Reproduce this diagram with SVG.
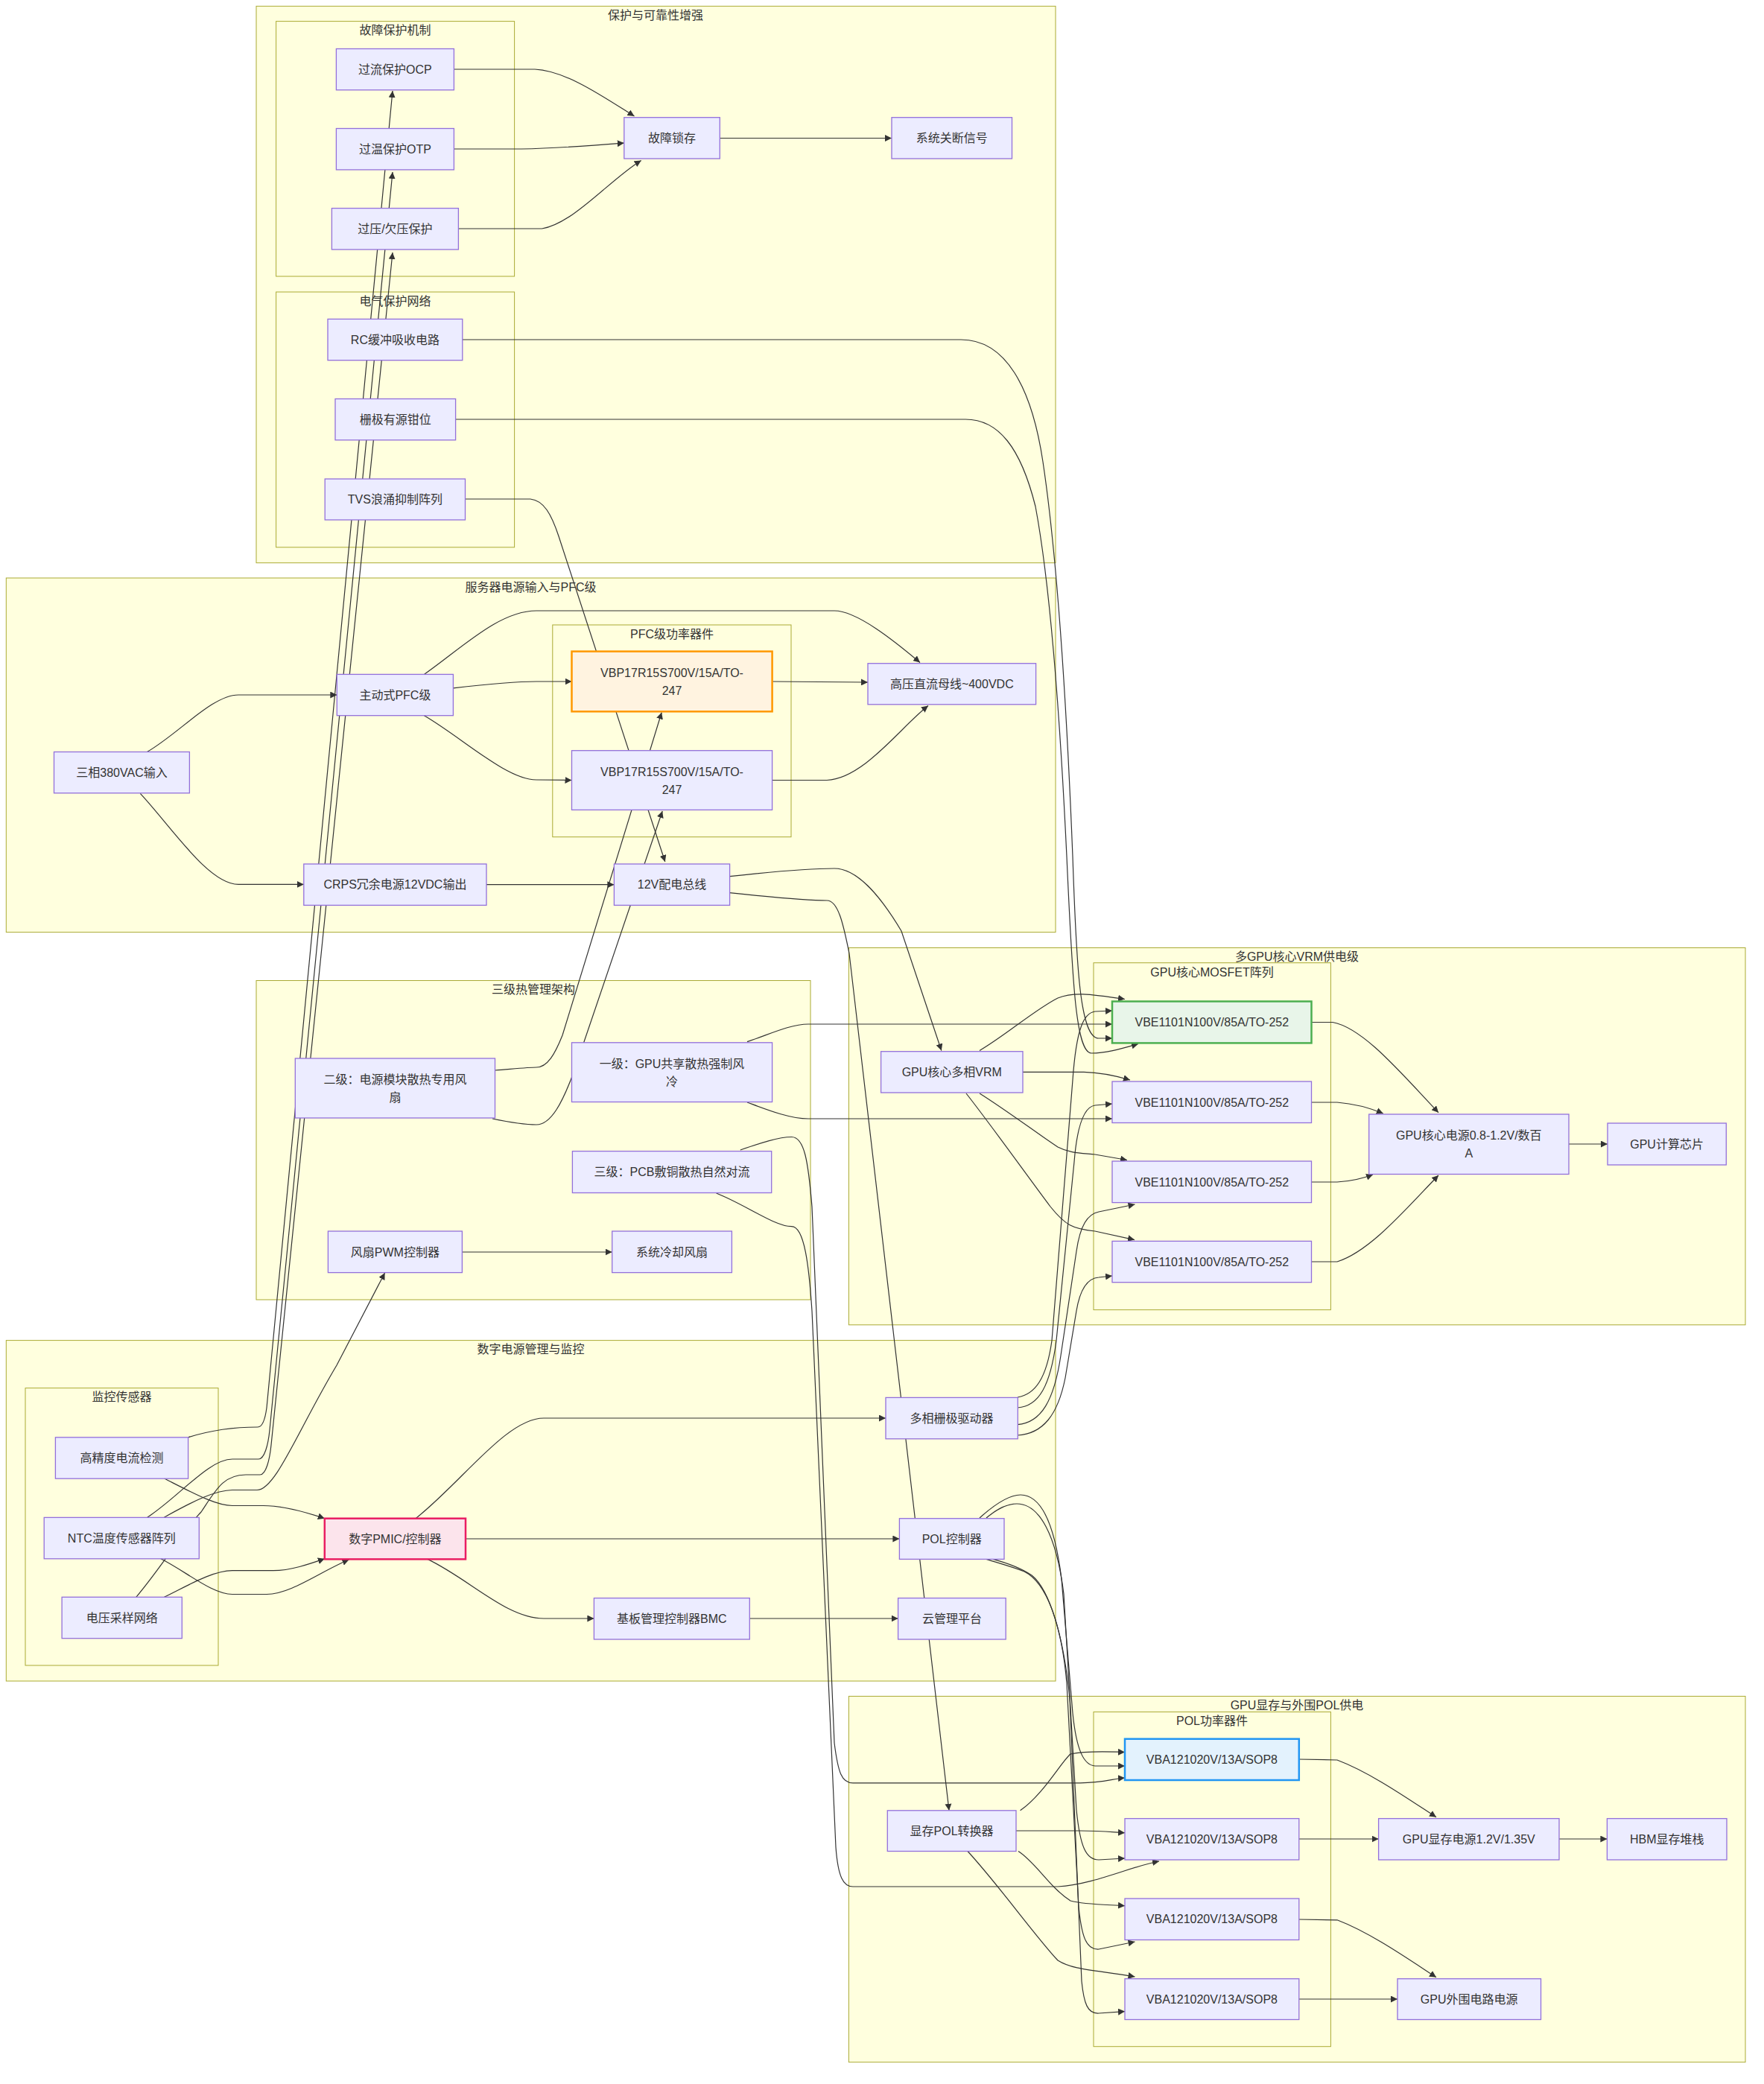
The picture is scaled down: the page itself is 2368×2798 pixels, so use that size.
<svg xmlns="http://www.w3.org/2000/svg" width="2368" height="2798" viewBox="0 0 2368 2798">
<defs>
<marker id="arr" viewBox="0 0 10 10" refX="10" refY="5" markerWidth="9" markerHeight="9" markerUnits="userSpaceOnUse" orient="auto"><path d="M0,0 L10,5 L0,10 z" fill="#333"/></marker>
<style>
.sg{fill:#ffffde;stroke:#aaaa33;stroke-width:1}
.st{font-family:"Liberation Sans","Noto Sans CJK SC",sans-serif;font-size:16px;fill:#333;text-anchor:middle;dominant-baseline:central}
.n rect{fill:#ECECFF;stroke:#9370DB;stroke-width:1.3}
.n text{font-family:"Liberation Sans","Noto Sans CJK SC",sans-serif;font-size:16px;fill:#333;text-anchor:middle;dominant-baseline:central}
.orange rect{fill:#fff3e0;stroke:#ff9800;stroke-width:2.5}
.green rect{fill:#e8f5e9;stroke:#4caf50;stroke-width:2.5}
.blue rect{fill:#e3f2fd;stroke:#2196f3;stroke-width:2.5}
.pink rect{fill:#fce4ec;stroke:#e91e63;stroke-width:2.5}
.e path{fill:none;stroke:#333;stroke-width:1.2;marker-end:url(#arr)}
</style>
</defs>
<rect width="2368" height="2798" fill="#ffffff"/>
<g id="clusters">
<rect class="sg" x="344" y="8.3" width="1073" height="747.4"/>
<text class="st" x="880" y="20">保护与可靠性增强</text>
<rect class="sg" x="370.6" y="28.6" width="320" height="342.4"/>
<text class="st" x="530.6" y="40">故障保护机制</text>
<rect class="sg" x="370.6" y="392" width="320" height="342.8"/>
<text class="st" x="530.6" y="404">电气保护网络</text>
<rect class="sg" x="8.3" y="776" width="1408.7" height="475.6"/>
<text class="st" x="712.6" y="788">服务器电源输入与PFC级</text>
<rect class="sg" x="741.8" y="839" width="320.2" height="284.7"/>
<text class="st" x="902" y="851">PFC级功率器件</text>
<rect class="sg" x="344" y="1316.5" width="744" height="428.5"/>
<text class="st" x="716" y="1328">三级热管理架构</text>
<rect class="sg" x="1139.4" y="1272.5" width="1203.6" height="506.3"/>
<text class="st" x="1741" y="1284">多GPU核心VRM供电级</text>
<rect class="sg" x="1468" y="1292.7" width="318.4" height="465.9"/>
<text class="st" x="1627" y="1305">GPU核心MOSFET阵列</text>
<rect class="sg" x="8.3" y="1799.6" width="1408.7" height="457.4"/>
<text class="st" x="712.6" y="1811">数字电源管理与监控</text>
<rect class="sg" x="34" y="1863.6" width="259" height="372.4"/>
<text class="st" x="163.5" y="1875">监控传感器</text>
<rect class="sg" x="1139.4" y="2277.4" width="1203.6" height="491.3"/>
<text class="st" x="1741" y="2289">GPU显存与外围POL供电</text>
<rect class="sg" x="1468" y="2298.4" width="318.4" height="449.3"/>
<text class="st" x="1627" y="2310">POL功率器件</text>
</g>
<g id="edges" class="e">
<path d="M609.4,93 L718,93 C760,95 810,130 851.5,156"/>
<path d="M609.4,200 L700,200 C750,199 800,195 837.8,192"/>
<path d="M615.3,307 L727.5,307 C770,300 820,240 860.7,215.4"/>
<path d="M966.3,185.5 L1197,185.5"/>
<path d="M197.5,1009.5 C240,985 285,933 320,933 L452.3,933"/>
<path d="M188.3,1065.4 C230,1110 280,1187.4 320,1187.4 L407.8,1187.4"/>
<path d="M608.4,923.8 C650,919 700,915 720,915 L767.5,915"/>
<path d="M569.4,960.7 C620,990 680,1047 720,1047 L767.5,1047.5"/>
<path d="M569.4,905.4 C620,870 670,820 720,820 L1120,820 C1150,820 1200,860 1235,889.5"/>
<path d="M1036.6,915 L1165,916"/>
<path d="M1036.6,1047.5 L1110,1047.5 C1160,1045 1210,975 1246,947.6"/>
<path d="M653,1187.7 L824.4,1187.7"/>
<path d="M979.6,1176.7 C1040,1170 1090,1166 1120,1166 C1150,1166 1180,1200 1210,1250 L1263.8,1410.5"/>
<path d="M979.6,1198.7 C1040,1205 1080,1209 1110,1209 C1125,1209 1132,1240 1140,1280 L1274,2430.8"/>
<path d="M624.5,670 L712,670 C730,672 740,690 750,720 L892.8,1157"/>
<path d="M664.5,1437 C690,1435 710,1433 720,1433 C735,1433 745,1415 755,1390 L888.2,956.5"/>
<path d="M661,1502 C690,1508 705,1510 720,1510 C740,1510 755,1480 770,1440 L889.2,1089"/>
<path d="M1003,1398.6 C1030,1390 1060,1375 1085,1375 L1493,1375"/>
<path d="M1003,1480 C1030,1490 1060,1502 1085,1502 L1493,1502"/>
<path d="M993.8,1544 C1020,1535 1045,1526.5 1062.6,1526.5 C1080,1526.5 1085,1560 1090,1620 L1120,2340 C1125,2380 1130,2393.8 1145,2393.8 L1450,2393.8 C1480,2393.8 1495,2388 1510,2387"/>
<path d="M961.6,1602 C1000,1617 1040,1646.7 1062.6,1646.7 C1080,1646.7 1086,1700 1090,1760 L1122,2480 C1125,2520 1132,2533 1145,2533 L1420,2533 C1470,2530 1520,2505 1556,2499"/>
<path d="M620.4,1681 L821.7,1681"/>
<path d="M620.8,456 L1290,456 C1350,456 1385,520 1400,620 C1415,720 1430,900 1440,1150 C1445,1300 1450,1394 1475,1394 L1493,1394"/>
<path d="M611.6,563 L1296,563 C1340,563 1370,600 1390,680 C1405,760 1420,900 1432,1150 C1440,1330 1445,1412 1465,1414 C1485,1414 1505,1408 1528,1401.5"/>
<path d="M1315,1410.5 C1350,1390 1390,1355 1420,1340 C1440,1332 1460,1334 1510,1341.5"/>
<path d="M1373,1439.4 L1455,1439.4 C1480,1440 1500,1445 1517,1450"/>
<path d="M1315,1468 C1350,1490 1390,1520 1420,1540 C1435,1548 1450,1548 1470,1550 L1513,1557.5"/>
<path d="M1297,1468 C1330,1510 1380,1580 1410,1620 C1430,1645 1440,1650 1470,1653 L1523,1664.6"/>
<path d="M1366,1876 C1390,1872 1405,1850 1412,1800 L1440,1450 C1445,1380 1455,1360 1470,1358 L1493,1357"/>
<path d="M1366,1890 C1395,1888 1410,1860 1418,1800 L1442,1560 C1446,1510 1455,1486 1470,1484 L1493,1482"/>
<path d="M1366,1912.6 C1398,1910 1415,1880 1424,1820 L1445,1680 C1450,1645 1460,1630 1475,1627 L1523.5,1617"/>
<path d="M1366,1927 C1400,1925 1420,1900 1430,1850 L1445,1760 C1450,1730 1460,1716 1475,1715 L1493,1713"/>
<path d="M1760.5,1372.5 L1789,1372.5 C1830,1380 1880,1440 1931,1493.8"/>
<path d="M1760.5,1480 L1795,1480 C1820,1482 1840,1488 1856.8,1495"/>
<path d="M1760.5,1587 L1795,1587 C1815,1586 1830,1582 1843,1577"/>
<path d="M1760.5,1694 L1795,1694 C1840,1680 1890,1620 1931,1578"/>
<path d="M2106,1536 L2158,1536"/>
<path d="M252.6,1929.8 C290,1918 320,1916 346,1916 C352,1916 356,1905 358,1890 L527,122"/>
<path d="M197.5,2037.4 C240,2010 280,1959 312,1959 L347,1959 C355,1959 360,1940 362,1920 L527,231"/>
<path d="M182.8,2144.3 C220,2100 250,2050 270,2030 C290,2000 300,1980 330,1980 L349,1980 C357,1980 362,1960 364,1940 L527,339"/>
<path d="M220,2037.4 C260,2015 290,2000.5 312,2000.5 L345,2000.5 C370,2000.5 400,1920 452,1833 L516.6,1709"/>
<path d="M220.4,1985 C260,2005 290,2021.5 312,2021.5 L353.6,2021.5 C380,2021.5 410,2030 435.8,2038.7"/>
<path d="M215.8,2092.8 C250,2110 285,2140.5 312,2140.5 L358,2140.5 C390,2140.5 430,2110 468.4,2094"/>
<path d="M220.4,2144.3 C250,2130 285,2108.7 312,2108.7 L367,2108.7 C390,2108.7 415,2100 435.8,2092.8"/>
<path d="M558,2038.7 C620,1990 680,1904 730,1904 L1189,1904"/>
<path d="M625,2066 L1207.4,2066"/>
<path d="M574,2093.4 C630,2120 680,2173 730,2173 L797.4,2173"/>
<path d="M1006.3,2173 L1205.6,2173"/>
<path d="M1315,2038 C1335,2020 1355,2007 1370,2007 C1395,2007 1415,2040 1425,2120 L1440,2300 C1445,2350 1455,2370 1470,2371 L1510,2371"/>
<path d="M1324,2038 C1340,2025 1352,2019 1365,2019 C1395,2019 1418,2060 1428,2140 L1445,2430 C1450,2480 1458,2497 1475,2497 L1510,2495"/>
<path d="M1324,2093.4 C1345,2100 1360,2104 1375,2110 C1405,2125 1425,2180 1432,2260 L1448,2560 C1452,2600 1458,2618 1475,2617 L1523.5,2607"/>
<path d="M1333,2093.4 C1350,2098 1370,2105 1385,2115 C1410,2135 1428,2200 1436,2280 L1452,2660 C1455,2690 1460,2704 1475,2703 L1510,2700.6"/>
<path d="M1369.6,2430.8 C1400,2410 1425,2365 1437,2355 C1460,2350 1490,2352 1510,2352.5"/>
<path d="M1364,2458 L1450,2458 C1480,2458 1495,2460 1510,2460.7"/>
<path d="M1367,2485.5 C1390,2500 1410,2535 1437,2552 C1455,2557 1480,2557 1510,2558.7"/>
<path d="M1299,2485.5 C1340,2530 1390,2600 1420,2632 C1440,2645 1470,2645 1523.5,2654"/>
<path d="M1743.8,2362 L1795,2363 C1840,2380 1890,2415 1928,2439.7"/>
<path d="M1743.8,2469 L1850.6,2469"/>
<path d="M2093,2469 L2157.4,2469"/>
<path d="M1743.8,2577 L1795,2577.8 C1840,2595 1890,2630 1928,2654.8"/>
<path d="M1743.8,2684 L1876,2684"/>
</g>
<g id="ocp" class="n"><rect x="451.4" y="65.5" width="158" height="55.3"/><text x="530.4" y="93">过流保护OCP</text></g>
<g id="otp" class="n"><rect x="451.4" y="172.5" width="158" height="55.4"/><text x="530.4" y="200">过温保护OTP</text></g>
<g id="ovp" class="n"><rect x="445.4" y="279.6" width="170" height="55.4"/><text x="530.4" y="307">过压/欠压保护</text></g>
<g id="rc" class="n"><rect x="440" y="428.4" width="180.8" height="55.3"/><text x="530.4" y="456">RC缓冲吸收电路</text></g>
<g id="clamp" class="n"><rect x="450" y="535.5" width="161.6" height="55.3"/><text x="530.8" y="563">栅极有源钳位</text></g>
<g id="tvs" class="n"><rect x="436.2" y="643" width="188.3" height="55"/><text x="530.4" y="670.5">TVS浪涌抑制阵列</text></g>
<g id="latch" class="n"><rect x="837.8" y="157.7" width="128.5" height="55.3"/><text x="902" y="185.5">故障锁存</text></g>
<g id="shutdown" class="n"><rect x="1197" y="157.7" width="161.5" height="55.3"/><text x="1277.8" y="185.5">系统关断信号</text></g>
<g id="pfc" class="n"><rect x="452.3" y="905.4" width="156.1" height="55.3"/><text x="530.4" y="933">主动式PFC级</text></g>
<g id="ac" class="n"><rect x="72.5" y="1009.5" width="181.9" height="55.3"/><text x="163.5" y="1037">三相380VAC输入</text></g>
<g id="crps" class="n"><rect x="407.8" y="1160" width="245.2" height="55.4"/><text x="530.4" y="1187.7">CRPS冗余电源12VDC输出</text></g>
<g id="qpfc1" class="n orange"><rect x="767.5" y="874.6" width="269.1" height="80.7"/><text x="902" y="915"><tspan x="902" dy="-12">VBP17R15S700V/15A/TO-</tspan><tspan x="902" dy="24">247</tspan></text></g>
<g id="qpfc2" class="n"><rect x="767.5" y="1007.7" width="269.1" height="79.7"/><text x="902" y="1047.5"><tspan x="902" dy="-12">VBP17R15S700V/15A/TO-</tspan><tspan x="902" dy="24">247</tspan></text></g>
<g id="hvbus" class="n"><rect x="1165" y="890.7" width="225.6" height="55.1"/><text x="1277.8" y="918.2">高压直流母线~400VDC</text></g>
<g id="bus12" class="n"><rect x="824.4" y="1160" width="155.2" height="55.4"/><text x="902" y="1187.7">12V配电总线</text></g>
<g id="cool1" class="n"><rect x="767.5" y="1399.8" width="269.1" height="79.7"/><text x="902" y="1439.6"><tspan x="902" dy="-12">一级：GPU共享散热强制风</tspan><tspan x="902" dy="24">冷</tspan></text></g>
<g id="cool2" class="n"><rect x="396.3" y="1421" width="268.2" height="80"/><text x="530.4" y="1461"><tspan x="530.4" dy="-12">二级：电源模块散热专用风</tspan><tspan x="530.4" dy="24">扇</tspan></text></g>
<g id="cool3" class="n"><rect x="768.4" y="1545.6" width="267.3" height="55.9"/><text x="902" y="1573.6">三级：PCB敷铜散热自然对流</text></g>
<g id="fanpwm" class="n"><rect x="440.4" y="1653" width="180" height="55.6"/><text x="530.4" y="1681">风扇PWM控制器</text></g>
<g id="fan" class="n"><rect x="821.7" y="1653" width="160.7" height="55.6"/><text x="902" y="1681">系统冷却风扇</text></g>
<g id="vrm" class="n"><rect x="1182.6" y="1411.7" width="190.4" height="55.3"/><text x="1277.8" y="1439.4">GPU核心多相VRM</text></g>
<g id="vbe1" class="n green"><rect x="1493" y="1344.5" width="267.5" height="55.9"/><text x="1626.8" y="1372.5">VBE1101N100V/85A/TO-252</text></g>
<g id="vbe2" class="n"><rect x="1493" y="1452" width="267.5" height="55.5"/><text x="1626.8" y="1480">VBE1101N100V/85A/TO-252</text></g>
<g id="vbe3" class="n"><rect x="1493" y="1559" width="267.5" height="55.6"/><text x="1626.8" y="1587">VBE1101N100V/85A/TO-252</text></g>
<g id="vbe4" class="n"><rect x="1493" y="1666.4" width="267.5" height="55.3"/><text x="1626.8" y="1694">VBE1101N100V/85A/TO-252</text></g>
<g id="corepwr" class="n"><rect x="1837.7" y="1496" width="268.3" height="80.5"/><text x="1971.8" y="1536"><tspan x="1971.8" dy="-12">GPU核心电源0.8-1.2V/数百</tspan><tspan x="1971.8" dy="24">A</tspan></text></g>
<g id="gpuchip" class="n"><rect x="2158" y="1508" width="159.3" height="56"/><text x="2237.6" y="1536">GPU计算芯片</text></g>
<g id="isense" class="n"><rect x="74.4" y="1929.8" width="178.2" height="55.4"/><text x="163.5" y="1957.5">高精度电流检测</text></g>
<g id="ntc" class="n"><rect x="59.2" y="2037.4" width="208.1" height="55.4"/><text x="163.3" y="2065">NTC温度传感器阵列</text></g>
<g id="vsense" class="n"><rect x="83.1" y="2144.3" width="161.2" height="55.4"/><text x="163.7" y="2172">电压采样网络</text></g>
<g id="pmic" class="n pink"><rect x="435.8" y="2038.7" width="189.2" height="54.7"/><text x="530.4" y="2066">数字PMIC/控制器</text></g>
<g id="gatedrv" class="n"><rect x="1189" y="1876.4" width="177.3" height="55.4"/><text x="1277.6" y="1904">多相栅极驱动器</text></g>
<g id="polctl" class="n"><rect x="1207.4" y="2038.7" width="140.6" height="54.7"/><text x="1277.7" y="2066">POL控制器</text></g>
<g id="bmc" class="n"><rect x="797.4" y="2145.6" width="208.9" height="55.4"/><text x="901.8" y="2173.3">基板管理控制器BMC</text></g>
<g id="cloud" class="n"><rect x="1205.6" y="2145.6" width="144.6" height="55.4"/><text x="1277.9" y="2173.3">云管理平台</text></g>
<g id="mempol" class="n"><rect x="1191.3" y="2430.8" width="172.7" height="54.7"/><text x="1277.6" y="2458">显存POL转换器</text></g>
<g id="vba1" class="n blue"><rect x="1510" y="2334.7" width="233.8" height="55.3"/><text x="1626.9" y="2362.3">VBA121020V/13A/SOP8</text></g>
<g id="vba2" class="n"><rect x="1510" y="2441.6" width="233.8" height="55.4"/><text x="1626.9" y="2469.3">VBA121020V/13A/SOP8</text></g>
<g id="vba3" class="n"><rect x="1510" y="2549" width="233.8" height="55.5"/><text x="1626.9" y="2576.8">VBA121020V/13A/SOP8</text></g>
<g id="vba4" class="n"><rect x="1510" y="2656.7" width="233.8" height="54.8"/><text x="1626.9" y="2684.1">VBA121020V/13A/SOP8</text></g>
<g id="mempwr" class="n"><rect x="1850.6" y="2441.6" width="242.4" height="55.4"/><text x="1971.8" y="2469.3">GPU显存电源1.2V/1.35V</text></g>
<g id="hbm" class="n"><rect x="2157.4" y="2441.6" width="160.6" height="55.4"/><text x="2237.7" y="2469.3">HBM显存堆栈</text></g>
<g id="periph" class="n"><rect x="1876" y="2656.7" width="192.5" height="54.8"/><text x="1972.2" y="2684.1">GPU外围电路电源</text></g>
</svg>
